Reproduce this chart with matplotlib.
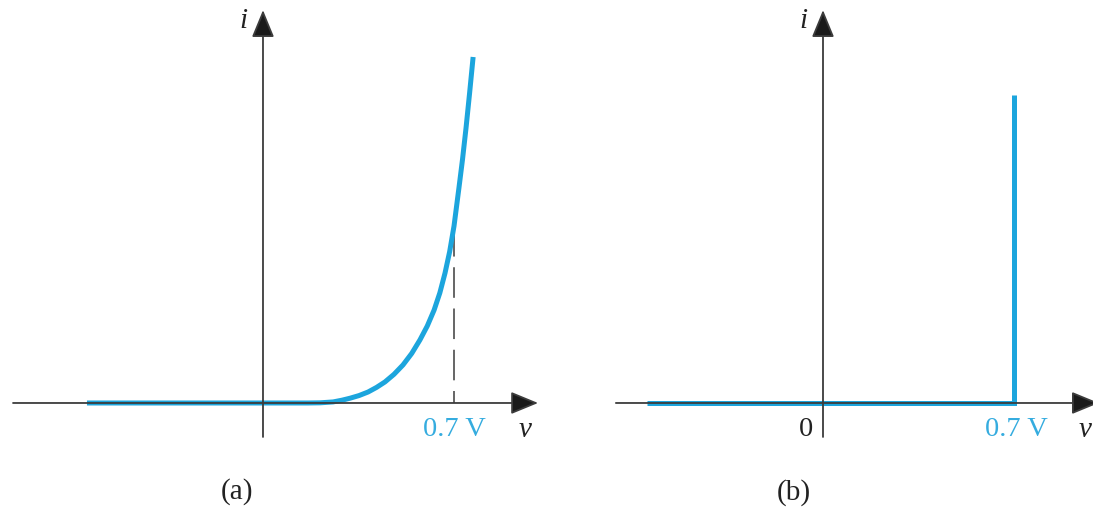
import matplotlib.pyplot as plt

# diode i-v characteristic, (a) real exponential curve, (b) ideal 0.7 V model
v_on = 0.7
v_real = [-0.645, 0.165, 0.21, 0.257, 0.29, 0.319, 0.352, 0.385, 0.416,
          0.447, 0.48, 0.513, 0.545, 0.575, 0.602, 0.627, 0.648, 0.667,
          0.684, 0.700, 0.718, 0.731, 0.744, 0.757, 0.770]
i_real = [0.0, 0.0, 0.001, 0.006, 0.016, 0.027, 0.042, 0.062, 0.088,
          0.119, 0.162, 0.215, 0.280, 0.356, 0.435, 0.525, 0.622, 0.734,
          0.855, 1.000, 1.215, 1.375, 1.554, 1.750, 1.955]
i_at_von = 1.0

v_ideal = [-0.645, 0.7, 0.7]
i_ideal = [0.0, 0.0, 1.74]

panel_labels = ['(a)', '(b)']

plt.rcParams['font.family'] = ['Liberation Serif', 'DejaVu Serif']

blue = '#1ca5dd'
blue_txt = '#35acdf'
axis_col = '#3c3c3c'
ink = '#222222'

W, H = 1093, 509
fig = plt.figure(figsize=(W / 100, H / 100), dpi=100)
ax_a = fig.add_axes([0, 0, 550 / W, 1])
ax_b = fig.add_axes([550 / W, 0, 543 / W, 1])

ax_a.set_xlim(-0.9637, 1.0517)
ax_b.set_xlim(-1.0004, 0.9894)
for ax in (ax_a, ax_b):
    ax.set_ylim(-0.599, 2.277)
    ax.axis('off')


def draw_axes(ax, x_start, x_tip):
    arrow = dict(arrowstyle='-|>,head_length=1.7,head_width=0.7',
                 mutation_scale=10, color=axis_col, lw=1.3,
                 shrinkA=0, shrinkB=0, fc='#1a1a1a')
    ax.annotate('', xy=(x_tip, 0), xytext=(x_start, 0), arrowprops=arrow,
                annotation_clip=False)
    ax.annotate('', xy=(0, 2.22), xytext=(0, -0.192), arrowprops=arrow,
                annotation_clip=False)
    ax.text(-0.073, 2.16, 'i', fontsize=21, fontstyle='italic',
            ha='center', va='center', color=ink)


# (a) real diode
draw_axes(ax_a, -0.916, 1.008)
ax_a.plot([v_on, v_on], [i_at_von, 0], color=axis_col, lw=1.1,
          linestyle=(0, (20, 7)))
ax_a.plot(v_real, i_real, color=blue, lw=3.6, solid_capstyle='butt',
          solid_joinstyle='round')
ax_a.text(v_on, -0.15, '0.7 V', fontsize=20.5, color=blue_txt,
          ha='center', va='center')
ax_a.text(0.96, -0.15, 'v', fontsize=21, fontstyle='italic',
          ha='center', va='center', color=ink)
ax_a.text(-0.095, -0.503, panel_labels[0], fontsize=21,
          ha='center', va='center', color=ink)

# (b) ideal model with 0.7 V drop
draw_axes(ax_b, -0.759, 1.011)
ax_b.plot(v_ideal, i_ideal, color=blue, lw=3.6, solid_capstyle='butt',
          solid_joinstyle='miter')
ax_b.text(-0.062, -0.15, '0', fontsize=20.5, ha='center', va='center',
          color=ink)
ax_b.text(v_on + 0.01, -0.15, '0.7 V', fontsize=20.5, color=blue_txt,
          ha='center', va='center')
ax_b.text(0.961, -0.15, 'v', fontsize=21, fontstyle='italic',
          ha='center', va='center', color=ink)
ax_b.text(-0.106, -0.508, panel_labels[1], fontsize=21,
          ha='center', va='center', color=ink)

fig.savefig('out.png', dpi=100)
